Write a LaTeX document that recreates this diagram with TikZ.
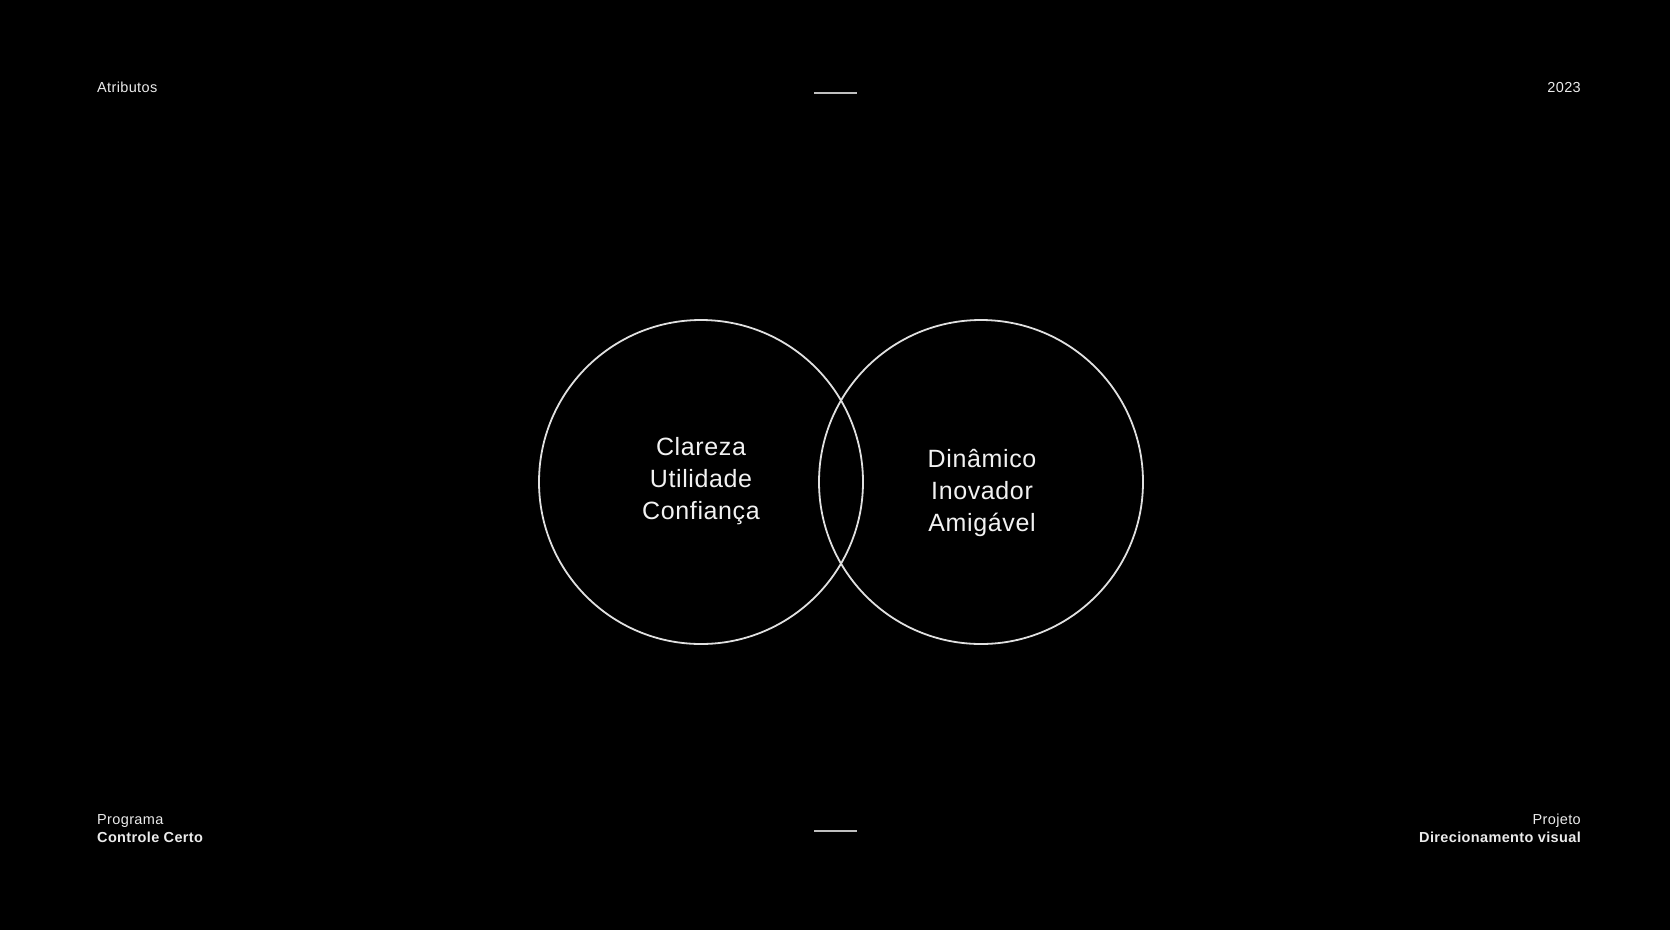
\documentclass[tikz,border=0pt]{standalone}
\usepackage{fontspec}
\setmainfont{Liberation Sans}[LetterSpace=2.5]
\begin{document}
\begin{tikzpicture}[x=1pt,y=-1pt,
  lbl/.style={inner sep=0pt,text=white!92!black,font=\fontsize{14.5}{17}\selectfont},
  big/.style={inner sep=0pt,text=white!95!black,anchor=base,font=\fontsize{25}{32}\selectfont},
  ring/.style={draw=white!88!black,line width=1.8pt},
  rule/.style={draw=white!75!black,line width=1.4pt}]
\fill[black] (0,0) rectangle (1670,930);
\useasboundingbox (0,0) rectangle (1670,930);
% circles
\node[ring,circle,minimum size=324pt,inner sep=0pt] (cl) at (701,482) {};
\node[ring,circle,minimum size=324pt,inner sep=0pt] (cr) at (981,482) {};
% left texts
\node[big] (l1) at (701,455) {Clareza};
\node[big] (l2) at (701,487) {Utilidade};
\node[big] (l3) at (701,519) {Confiança};
% right texts
\node[big] (r1) at (982,467) {Dinâmico};
\node[big] (r2) at (982,499) {Inovador};
\node[big] (r3) at (982,531) {Amigável};
% corner labels
\node[lbl,anchor=base west] (atr) at (97,92) {Atributos};
\node[lbl,anchor=base east] (yr) at (1581,92) {2023};
\node[lbl,anchor=base west] (prog) at (97,824) {Programa};
\node[lbl,anchor=base west,font=\fontsize{14.5}{17}\selectfont\bfseries] (cc) at (97,842) {Controle Certo};
\node[lbl,anchor=base east] (proj) at (1581,824) {Projeto};
\node[lbl,anchor=base east,font=\fontsize{14.5}{17}\selectfont\bfseries] (dv) at (1581,842) {Direcionamento visual};
% short rules
\coordinate (t1) at (814,93); \coordinate (t2) at (857,93);
\coordinate (b1) at (814,831); \coordinate (b2) at (857,831);
\draw[rule] (t1) -- (t2);
\draw[rule] (b1) -- (b2);
\end{tikzpicture}
\end{document}
